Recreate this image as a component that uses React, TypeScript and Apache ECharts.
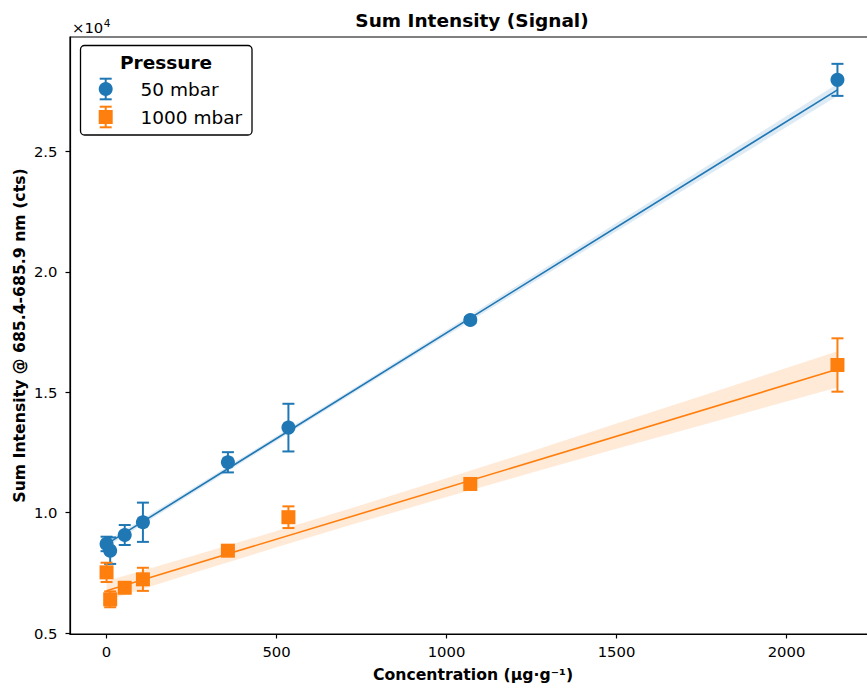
import React, { useEffect, useRef } from "react";
import * as echarts from "echarts";

// ---- data ----
const concentration = [0, 10.7, 53.5, 107, 357, 535, 1070, 2150];
const blue50 = [8700, 8420, 9070, 9600, 12090, 13530, 18000, 27970];
const blue50Err = [300, 550, 415, 815, 420, 990, 120, 665];
const orange1000 = [7520, 6400, 6880, 7230, 8420, 9810, 11190, 16130];
const orange1000Err = [400, 330, 150, 480, 100, 450, 150, 1108];

// fitted lines (endpoints)
const fitX = [0, 2150];
const blueFit = [8690, 27555];
const orangeFit = [6760, 15950];

// confidence bands
const bandX = [0, 250, 500, 750, 1000, 1250, 1500, 1750, 2000, 2150];
const blueUpper = [8815, 10992, 13177, 15376, 17584, 19800, 22022, 24244, 26470, 27805];
const blueLower = [8565, 10776, 12977, 15166, 17344, 19516, 21682, 23846, 26008, 27305];
const orangeUpper = [7165, 8188, 9236, 10316, 11424, 12553, 13696, 14847, 16004, 16700];
const orangeLower = [6355, 7470, 8558, 9616, 10644, 11653, 12648, 13633, 14614, 15200];

const xTicks = [0, 500, 1000, 1500, 2000];
const yTicks = [5000, 10000, 15000, 20000, 25000];

const BLUE = "#1f77b4";
const ORANGE = "#ff7f0e";
const FONT = "DejaVu Sans";

function bandSeries(upper: number[], lower: number[], fill: string) {
  return {
    type: "custom",
    z: 1,
    silent: true,
    data: [[bandX[0], lower[0]]],
    renderItem: (_p: any, api: any) => {
      const pts: number[][] = [];
      for (let i = 0; i < bandX.length; i++) pts.push(api.coord([bandX[i], upper[i]]));
      for (let i = bandX.length - 1; i >= 0; i--) pts.push(api.coord([bandX[i], lower[i]]));
      return { type: "polygon", shape: { points: pts }, style: { fill } };
    },
  };
}

function errSeries(vals: number[], errs: number[], color: string) {
  return {
    type: "custom",
    z: 3,
    silent: true,
    data: concentration.map((c, i) => [c, vals[i], errs[i]]),
    renderItem: (_p: any, api: any) => {
      const x = api.value(0);
      const y = api.value(1);
      const e = api.value(2);
      const t = api.coord([x, y + e]);
      const b = api.coord([x, y - e]);
      const cw = 6;
      const st = { stroke: color, lineWidth: 2 };
      return {
        type: "group",
        children: [
          { type: "line", shape: { x1: t[0], y1: t[1], x2: b[0], y2: b[1] }, style: st },
          { type: "line", shape: { x1: t[0] - cw, y1: t[1], x2: t[0] + cw, y2: t[1] }, style: st },
          { type: "line", shape: { x1: b[0] - cw, y1: b[1], x2: b[0] + cw, y2: b[1] }, style: st },
        ],
      };
    },
  };
}

function legendEntry(cx: number, cy: number, color: string, square: boolean, label: string) {
  const st = { stroke: color, lineWidth: 2 };
  const h = 10.3;
  const cw = 6;
  const marker = square
    ? { type: "rect", shape: { x: cx - 7, y: cy - 7, width: 14, height: 14 }, style: { fill: color } }
    : { type: "circle", shape: { cx, cy, r: 7 }, style: { fill: color } };
  return [
    { type: "line", shape: { x1: cx, y1: cy - h, x2: cx, y2: cy + h }, style: st },
    { type: "line", shape: { x1: cx - cw, y1: cy - h, x2: cx + cw, y2: cy - h }, style: st },
    { type: "line", shape: { x1: cx - cw, y1: cy + h, x2: cx + cw, y2: cy + h }, style: st },
    marker,
    {
      type: "text",
      x: 140.5,
      y: cy,
      style: { text: label, fontFamily: FONT, fontSize: 18.5, fill: "#000", textAlign: "left", textVerticalAlign: "middle" },
    },
  ];
}

export default function App() {
  const ref = useRef<HTMLDivElement>(null);
  useEffect(() => {
    if (!ref.current) return;
    const chart = echarts.init(ref.current, undefined, { renderer: "svg" });
    const axisCommon = {
      type: "value",
      splitLine: { show: false },
      axisLine: { show: true, onZero: false, lineStyle: { color: "#000", width: 1.2 } },
    };
    chart.setOption({
      animation: false,
      backgroundColor: "#fff",
      grid: { left: 70, top: 37, right: 6, bottom: 50, show: true, borderColor: "#000", borderWidth: 1.2, backgroundColor: "transparent" },
      xAxis: {
        ...axisCommon,
        min: -107.5,
        max: 2257.5,
        axisTick: { show: true, inside: false, length: 4.5, customValues: xTicks, lineStyle: { color: "#000", width: 1.2 } },
        axisLabel: {
          customValues: xTicks,
          fontFamily: FONT,
          fontSize: 14.8,
          color: "#000",
          margin: 10,
          formatter: (v: number) => String(v),
        },
      },
      yAxis: {
        ...axisCommon,
        min: 4960,
        max: 29750,
        axisTick: { show: true, inside: false, length: 4.5, customValues: yTicks, lineStyle: { color: "#000", width: 1.2 } },
        axisLabel: {
          customValues: yTicks,
          fontFamily: FONT,
          fontSize: 14.8,
          color: "#000",
          margin: 12.5,
          formatter: (v: number) => (v / 10000).toFixed(1),
        },
      },
      series: [
        bandSeries(blueUpper, blueLower, "rgba(31,119,180,0.15)"),
        bandSeries(orangeUpper, orangeLower, "rgba(255,127,14,0.16)"),
        {
          type: "line",
          z: 2,
          silent: true,
          showSymbol: false,
          data: fitX.map((x, i) => [x, blueFit[i]]),
          lineStyle: { color: BLUE, width: 1.6 },
        },
        {
          type: "line",
          z: 2,
          silent: true,
          showSymbol: false,
          data: fitX.map((x, i) => [x, orangeFit[i]]),
          lineStyle: { color: ORANGE, width: 1.6 },
        },
        errSeries(blue50, blue50Err, BLUE),
        errSeries(orange1000, orange1000Err, ORANGE),
        {
          type: "scatter",
          z: 4,
          symbol: "circle",
          symbolSize: 14,
          data: concentration.map((c, i) => [c, blue50[i]]),
          itemStyle: { color: BLUE, opacity: 1 },
        },
        {
          type: "scatter",
          z: 4,
          symbol: "rect",
          symbolSize: 14,
          data: concentration.map((c, i) => [c, orange1000[i]]),
          itemStyle: { color: ORANGE, opacity: 1 },
        },
      ],
      graphic: [
        {
          type: "text",
          x: 472,
          y: 20,
          style: { text: "Sum Intensity (Signal)", fontFamily: FONT, fontWeight: "bold", fontSize: 18.5, fill: "#000", textAlign: "center", textVerticalAlign: "middle" },
        },
        {
          type: "text",
          x: 473,
          y: 674,
          style: { text: "Concentration (µg·g⁻¹)", fontFamily: FONT, fontWeight: "bold", fontSize: 15.7, fill: "#000", textAlign: "center", textVerticalAlign: "middle" },
        },
        {
          type: "text",
          x: 19.5,
          y: 335.5,
          rotation: Math.PI / 2,
          style: { text: "Sum Intensity @ 685.4-685.9 nm (cts)", fontFamily: FONT, fontWeight: "bold", fontSize: 15.7, fill: "#000", textAlign: "center", textVerticalAlign: "middle" },
        },
        {
          type: "text",
          x: 72,
          y: 27.7,
          style: { text: "×10", fontFamily: FONT, fontSize: 14.8, fill: "#000", textAlign: "left", textVerticalAlign: "middle" },
        },
        {
          type: "text",
          x: 103.8,
          y: 22.8,
          style: { text: "4", fontFamily: FONT, fontSize: 10.5, fill: "#000", textAlign: "left", textVerticalAlign: "middle" },
        },
        {
          type: "group",
          z: 100,
          children: [
            {
              type: "rect",
              shape: { x: 80.5, y: 45.5, width: 171.5, height: 89.5, r: 4 },
              style: { fill: "#fff", stroke: "#000", lineWidth: 1.3 },
            },
            {
              type: "text",
              x: 166,
              y: 62,
              style: { text: "Pressure", fontFamily: FONT, fontWeight: "bold", fontSize: 18.5, fill: "#000", textAlign: "center", textVerticalAlign: "middle" },
            },
            ...legendEntry(105.7, 89, BLUE, false, "50 mbar"),
            ...legendEntry(105.7, 117, ORANGE, true, "1000 mbar"),
          ],
        },
      ],
    });
    return () => chart.dispose();
  }, []);
  return (
    <div
      ref={ref}
      style={{ position: "fixed", left: 0, top: 0, width: 880, height: 684, background: "#fff" }}
    />
  );
}
